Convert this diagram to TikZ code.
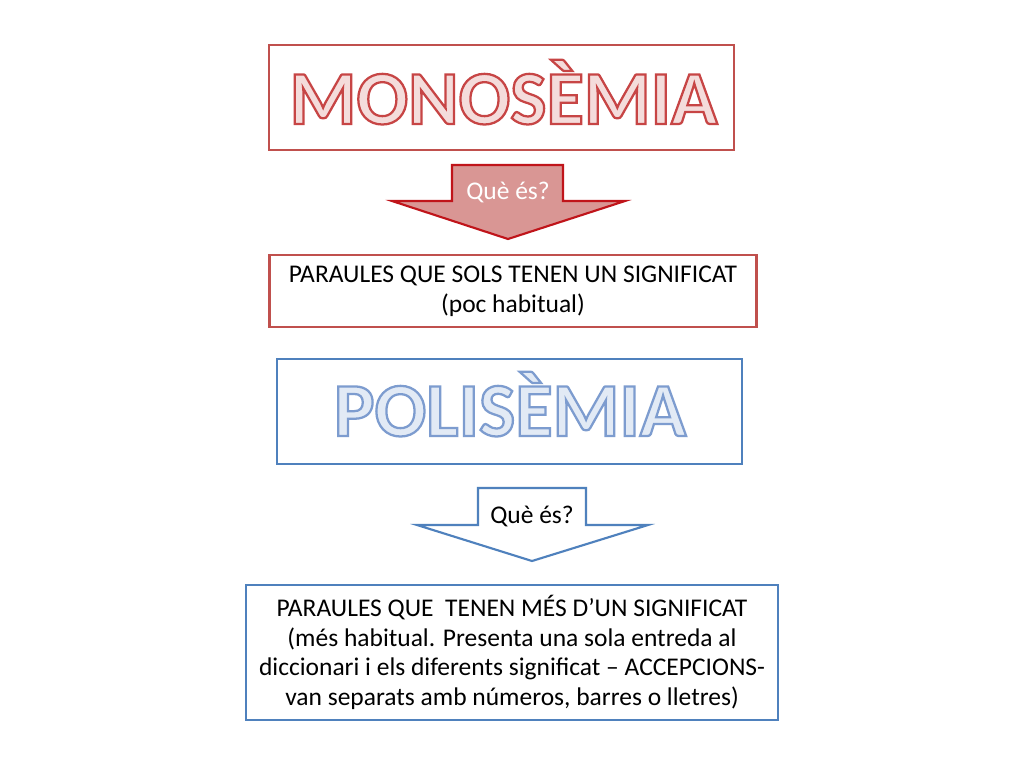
\documentclass[tikz,border=0pt]{standalone}
\usepackage{fontspec}
\setmainfont{Carlito}
\usepackage{tikz}
\usetikzlibrary{shapes}

\definecolor{monoline}{HTML}{C0504D}
\definecolor{monofill}{HTML}{F4DCDB}
\definecolor{arrowred}{HTML}{C0141A}
\definecolor{arrowpink}{HTML}{D99694}
\definecolor{polyline}{HTML}{4F81BD}
\definecolor{polyfill}{HTML}{E2EAF5}

\newlength\unitpx
\setlength\unitpx{0.0248046875cm}
% fill and stroke the glyphs: #1 stroke colour (rgb), #2 text
\newcommand\outlinedtext[2]{\special{pdf:code 2 Tr 1.6 w #1 RG}#2\special{pdf:code 0 Tr}}

\begin{document}
\begin{tikzpicture}[x=\unitpx, y=-\unitpx,
    box/.style={draw, line width=1.7pt, inner sep=0pt, outer sep=0pt},
    redbox/.style={box, draw=monoline},
    bluebox/.style={box, draw=polyline},
    body/.style={font=\fontsize{18}{21}\selectfont, align=center},
    title/.style={font=\fontsize{54}{60}\selectfont\bfseries, anchor=base, inner sep=0pt}]
    \useasboundingbox[fill=white] (0,0) rectangle (1024,768);

    \node[redbox, minimum width=465*\unitpx, minimum height=105*\unitpx] (mono) at (501.5,97.5) {};
    \node[title, text=monofill] (monotitle) at (503.5,124) {\outlinedtext{0.78 0.27 0.27}{MONOSÈMIA}};

    \draw[line width=1.5pt, draw=arrowred, fill=arrowpink, line join=miter]
	(452,165) -- (563,165) -- (563,201) -- (625,201) -- (508,239) -- (392,201) -- (452,201) -- cycle;
    \node[body, text=white, anchor=base] (q1) at (508,199) {Què és?};

    \node[redbox, minimum width=487*\unitpx, minimum height=72*\unitpx] (monodef) at (513,291) {};
    \node[body] (monotext) at (monodef.center) {PARAULES QUE SOLS TENEN UN SIGNIFICAT\\(poc habitual)};

    \node[bluebox, minimum width=465*\unitpx, minimum height=105*\unitpx] (poli) at (509.5,411.5) {};
    \node[title, text=polyfill] (polititle) at (510,436) {\outlinedtext{0.49 0.61 0.81}{POLISÈMIA}};

    \draw[line width=1.5pt, draw=polyline, fill=white, line join=miter]
	(478,488) -- (586,488) -- (586,525) -- (648,525) -- (532,561) -- (417,525) -- (478,525) -- cycle;
    \node[body, anchor=base] (q2) at (532,523) {Què és?};

    \node[bluebox, minimum width=532*\unitpx, minimum height=135*\unitpx] (polidef) at (512,652.5) {};
    \node[body] (politext) at (polidef.center) {PARAULES QUE\ \ TENEN MÉS D’UN SIGNIFICAT\\(més habitual. Presenta una sola entreda al\\diccionari i els diferents significat – ACCEPCIONS-\\van separats amb números, barres o lletres)};
\end{tikzpicture}
\end{document}
